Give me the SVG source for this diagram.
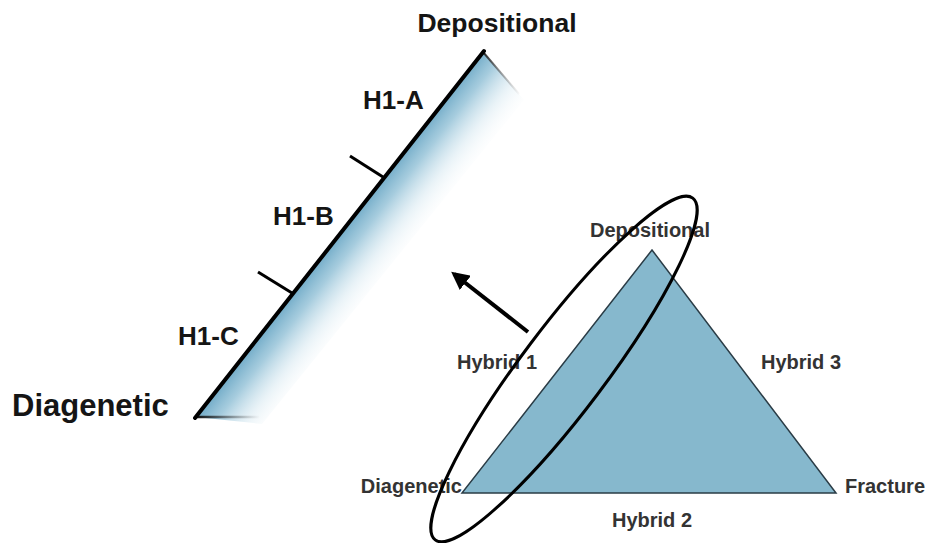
<svg xmlns="http://www.w3.org/2000/svg" width="928" height="543" viewBox="0 0 928 543">
  <defs>
    <style>
      .big { font-family: "Liberation Sans", Arial, sans-serif; font-weight: bold; fill: #151515; }
      .small { font-family: "Liberation Sans", Arial, sans-serif; font-weight: bold; font-size: 20px; fill: #333333; }
      .h1 { font-size: 26px; }
    </style>
    <linearGradient id="sliver" gradientUnits="userSpaceOnUse" x1="340" y1="234" x2="395" y2="277">
      <stop offset="0" stop-color="#74adc9" stop-opacity="1"/>
      <stop offset="0.25" stop-color="#96c3d8" stop-opacity="0.85"/>
      <stop offset="0.6" stop-color="#cfe4ee" stop-opacity="0.45"/>
      <stop offset="1" stop-color="#ffffff" stop-opacity="0"/>
    </linearGradient>
    <linearGradient id="topEdge" gradientUnits="userSpaceOnUse" x1="483" y1="52" x2="520" y2="96">
      <stop offset="0" stop-color="#222" stop-opacity="1"/>
      <stop offset="1" stop-color="#666" stop-opacity="0"/>
    </linearGradient>
    <linearGradient id="botEdge" gradientUnits="userSpaceOnUse" x1="196" y1="417" x2="260" y2="417">
      <stop offset="0" stop-color="#111" stop-opacity="1"/>
      <stop offset="1" stop-color="#444" stop-opacity="0"/>
    </linearGradient>
    <marker id="head" viewBox="0 0 10 10" refX="8" refY="5" markerWidth="4.5" markerHeight="4.5" orient="auto" markerUnits="strokeWidth">
      <path d="M0,0 L10,5 L0,10 Z" fill="#000"/>
    </marker>
  </defs>

  <rect width="928" height="543" fill="#ffffff"/>

  <g id="hybrid-axis">
    <polygon points="483,52 524,100 262,424 196,417" fill="url(#sliver)"/>
    <line x1="483" y1="52" x2="519" y2="94" stroke="url(#topEdge)" stroke-width="2"/>
    <line x1="196" y1="417" x2="260" y2="417" stroke="url(#botEdge)" stroke-width="2.5"/>
    <line x1="484" y1="51" x2="195" y2="418" stroke="#000" stroke-width="4" stroke-linecap="round"/>
    <line x1="350" y1="156" x2="383" y2="177" stroke="#000" stroke-width="3"/>
    <line x1="258" y1="272" x2="292" y2="293" stroke="#000" stroke-width="3"/>
  </g>

  <g id="label-depositional-top">
    <text class="big" x="497" y="32" font-size="26.5" text-anchor="middle">Depositional</text>
  </g>
  <g id="label-diagenetic-left">
    <text class="big" x="12" y="416" font-size="31">Diagenetic</text>
  </g>
  <g id="label-h1a"><text class="big h1" x="363" y="109">H1-A</text></g>
  <g id="label-h1b"><text class="big h1" x="273" y="225">H1-B</text></g>
  <g id="label-h1c"><text class="big h1" x="178" y="345">H1-C</text></g>

  <g id="ternary-triangle">
    <polygon points="652,250 836,493 462,493" fill="#86b8cd" stroke="#2a3c46" stroke-width="1.5" stroke-linejoin="miter"/>
  </g>

  <g id="tri-labels">
    <text class="small" x="650" y="237" text-anchor="middle">Depositional</text>
    <text class="small" x="497" y="369" text-anchor="middle">Hybrid 1</text>
    <text class="small" x="801" y="369" text-anchor="middle">Hybrid 3</text>
    <text class="small" x="462" y="493" text-anchor="end">Diagenetic</text>
    <text class="small" x="845" y="493">Fracture</text>
    <text class="small" x="652" y="527" text-anchor="middle">Hybrid 2</text>
  </g>

  <g id="selection-ellipse">
    <ellipse cx="564" cy="369" rx="214" ry="42" transform="rotate(-53 564 369)" fill="none" stroke="#000" stroke-width="3"/>
  </g>

  <g id="connectors">
    <line x1="528" y1="332" x2="454" y2="274" stroke="#000" stroke-width="4" marker-end="url(#head)"/>
  </g>
</svg>
